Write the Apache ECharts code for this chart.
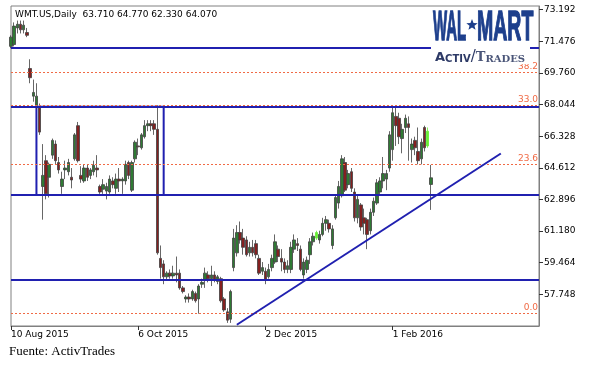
<!DOCTYPE html>
<html><head><meta charset="utf-8">
<script src="https://cdn.jsdelivr.net/npm/echarts@6/dist/echarts.min.js"></script>
<style>html,body{margin:0;padding:0;background:#fff}#c{width:607px;height:382px}</style>
</head><body><div id="c"></div>
<script>
// ---- data ----
const opens = [71.2,71.3,72.2,72.4,72.1,71.95,70.0,68.5,68.0,67.9,
63.6,65.0,64.1,65.3,65.9,64.9,63.6,64.5,64.4,64.1,
65.1,66.9,64.2,63.9,64.6,64.2,64.4,64.6,63.6,63.45,
63.35,63.3,63.9,63.5,64.0,63.9,63.9,64.9,63.4,65.1,
65.8,65.7,66.3,66.9,67.0,67.0,66.7,59.7,59.4,58.7,
58.9,58.75,58.9,58.9,58.1,57.5,57.6,57.5,57.8,57.5,
58.3,58.5,58.8,58.6,58.8,58.45,58.6,57.5,56.8,56.4,
59.2,60.0,61.1,60.8,60.7,60.0,60.3,60.5,59.7,59.0,
59.0,58.7,59.2,59.5,60.2,59.7,59.5,59.1,59.1,60.2,
60.5,60.2,58.8,59.1,59.9,60.6,60.8,60.7,61.0,61.6,
61.6,60.4,61.9,62.7,63.1,64.9,63.7,64.4,63.3,61.9,
62.6,61.9,61.8,61.2,62.2,62.7,63.3,63.9,64.0,64.6,
65.6,67.4,67.3,66.2,66.8,67.0,65.6,66.1,65.5,65.1,
66.8,65.8,63.71];
const highs = [71.8,72.5,72.6,72.6,72.6,72.2,70.5,69.4,69.2,68.1,
65.9,65.3,64.9,66.2,66.1,65.2,64.4,65.0,65.1,64.6,
66.5,67.1,64.7,64.8,64.8,64.6,65.0,65.3,63.7,64.0,
63.8,64.2,64.1,64.3,64.6,64.1,65.0,65.0,65.0,66.1,
66.2,66.5,67.2,67.2,67.2,67.2,68.0,60.4,59.6,59.0,
59.1,59.3,59.8,59.1,58.2,57.7,57.8,58.0,57.9,58.3,
58.6,59.2,59.0,59.3,59.0,58.8,58.7,57.6,57.0,58.0,
61.3,61.5,61.7,61.3,60.9,60.6,60.7,60.7,59.9,59.5,
59.2,59.4,59.9,61.0,60.4,60.2,59.7,59.6,60.6,61.0,
60.8,60.4,59.7,59.8,60.8,61.1,61.2,61.2,61.9,62.0,
61.8,61.5,63.1,63.9,65.3,65.2,64.5,64.6,63.5,63.1,
62.7,62.4,61.9,62.4,63.0,64.0,64.1,65.2,64.5,66.6,
68.0,67.9,67.6,67.0,67.5,67.4,66.2,66.3,66.8,66.2,
66.9,66.8,64.77];
const lows = [71.1,71.2,71.9,71.9,71.9,71.7,69.2,68.2,67.8,66.4,
61.8,62.9,63.0,65.1,64.8,64.3,63.2,64.0,64.2,63.5,
65.0,64.9,63.8,63.8,63.9,64.0,64.2,64.1,63.2,63.2,
62.9,63.2,63.5,63.2,63.3,63.2,63.7,64.0,63.3,64.9,
65.3,65.6,66.2,66.6,66.6,66.4,59.9,58.6,58.3,58.5,
58.6,58.6,58.4,58.0,57.8,57.3,57.3,57.4,57.3,56.7,
58.1,58.1,58.4,58.2,58.4,58.3,57.3,56.8,56.2,56.2,
59.0,59.8,60.5,59.9,59.8,59.8,59.8,59.7,58.8,58.8,
58.3,58.6,59.0,59.4,59.5,59.0,58.9,58.9,58.9,60.0,
60.1,59.0,58.6,58.9,59.4,60.4,60.7,60.5,60.9,61.2,
61.1,60.2,61.8,62.4,63.0,63.3,63.5,63.3,61.7,61.6,
61.2,61.0,60.2,61.0,62.0,62.6,63.1,63.5,63.4,64.4,
65.0,65.8,65.9,65.4,66.5,65.0,64.9,65.3,64.8,64.8,
65.5,65.7,62.33];
const closes = [71.7,72.3,72.4,72.1,72.35,71.8,69.5,68.7,68.5,66.55,
64.2,63.2,64.8,66.1,65.0,64.5,64.0,64.6,64.9,63.95,
66.4,65.0,64.0,64.6,64.1,64.5,64.75,64.5,63.3,63.7,
63.6,64.0,63.7,64.0,63.9,64.0,64.8,64.2,64.9,66.0,
65.75,66.4,66.9,67.0,66.9,66.7,60.0,59.2,58.7,58.9,
58.75,58.9,58.8,58.1,57.9,57.6,57.5,57.9,57.4,58.2,
58.4,58.9,58.6,58.8,58.5,58.7,57.4,56.9,56.35,57.9,
60.8,61.1,60.7,60.3,59.9,60.3,60.0,59.9,58.9,59.2,
58.5,59.1,59.7,60.6,59.8,59.5,59.1,59.3,60.3,60.7,
60.4,59.1,59.5,59.6,60.6,60.9,61.1,61.0,61.6,61.8,
61.3,61.3,63.0,63.6,65.1,63.4,64.3,63.5,61.9,62.9,
61.4,61.6,61.0,62.2,62.8,63.8,63.9,64.3,64.3,66.4,
67.6,66.9,66.3,66.7,67.3,66.8,65.9,65.7,65.0,66.0,
65.7,66.6,64.07];
const limeBars = [96, 131];

const tickIndex  = [0, 40, 80, 120];
const tickLabels = ['10 Aug 2015', '6 Oct 2015', '2 Dec 2015', '1 Feb 2016'];
const yTicksFrom = 56.032, yTickStep = 1.716, yTop = 73.39;

const hLevels   = [71.15, 67.93, 63.14, 58.53];
const fibLevels = [69.82, 68.02, 64.80, 56.72];
const fibLabels = ['38.2', '33.0', '23.6', '0.0'];
const boxStart  = [8, 67.93], boxEnd = [48, 63.14];
const trendStart = [71, 56.1], trendEnd = [154, 65.39];

const totalSlots = 167;
const holidays = ['2015-09-07','2015-11-26','2015-12-25','2016-01-01','2016-01-18','2016-02-15'];

// trading-day calendar for the category axis
const categories = [];
(function(){
  const d = new Date(Date.UTC(2015, 7, 10));
  while (categories.length < totalSlots) {
    const wd = d.getUTCDay();
    const s = d.toISOString().slice(0, 10);
    if (wd !== 0 && wd !== 6 && holidays.indexOf(s) < 0) categories.push(s);
    d.setUTCDate(d.getUTCDate() + 1);
  }
})();

const BLUE = '#2020b0', FIB = '#f06a45', FONT = '"DejaVu Sans"';
const candleData = opens.map((o, i) => {
  const item = { value: [o, closes[i], lows[i], highs[i]] };
  if (limeBars.indexOf(i) >= 0) item.itemStyle = { color: '#66ee33', color0: '#66ee33', borderColor: '#66ee33', borderColor0: '#66ee33' };
  return item;
});

const lineData = [];
hLevels.forEach(v => lineData.push({ yAxis: v, lineStyle: { color: BLUE, width: 2, type: 'solid' }, label: { show: false } }));
fibLevels.forEach((v, k) => lineData.push({
  yAxis: v,
  lineStyle: { color: FIB, width: 1, type: [2, 2] },
  label: { show: true, position: 'insideEndTop', formatter: fibLabels[k], color: FIB, fontFamily: FONT, fontSize: 9, distance: [1, 1] }
}));
lineData.push([{ coord: trendStart, lineStyle: { color: BLUE, width: 2, type: 'solid' }, label: { show: false } }, { coord: trendEnd }]);

// star polygon for logo
const starPts = [];
for (let k = 0; k < 10; k++) {
  const r = k % 2 === 0 ? 6 : 2.6;
  const a = -Math.PI / 2 + k * Math.PI / 5;
  starPts.push([472 + r * Math.cos(a), 25 + r * Math.sin(a)]);
}

const chart = echarts.init(document.getElementById('c'), null, { renderer: 'canvas' });
chart.setOption({
  animation: false,
  backgroundColor: '#fff',
  grid: { left: 11, top: 6, right: 68, bottom: 56, show: true, borderColor: '#808080', borderWidth: 1 },
  xAxis: {
    type: 'category', data: categories, boundaryGap: false,
    axisLine: { lineStyle: { color: '#808080' } },
    axisTick: { show: true, length: 4, interval: (i) => tickIndex.indexOf(i) >= 0, lineStyle: { color: '#333' } },
    axisLabel: {
      interval: (i) => tickIndex.indexOf(i) >= 0,
      formatter: (v, i) => { const k = tickIndex.indexOf(i); return k >= 0 ? tickLabels[k] : ''; },
      align: 'left', margin: 4, color: '#000', fontFamily: FONT, fontSize: 9
    },
    splitLine: { show: false }
  },
  yAxis: {
    type: 'value', position: 'right', min: yTicksFrom, max: yTop, interval: yTickStep,
    axisLine: { show: true, lineStyle: { color: '#808080' } },
    axisTick: { show: true, length: 4, lineStyle: { color: '#333' } },
    axisLabel: { showMinLabel: false, showMaxLabel: false, margin: 5, color: '#000', fontFamily: FONT, fontSize: 9,
      formatter: (v) => v.toFixed(3) },
    splitLine: { show: false }
  },
  series: [{
    type: 'candlestick',
    data: candleData,
    barWidth: 3,
    itemStyle: { color: '#2f7a34', color0: '#842020', borderColor: '#404040', borderColor0: '#404040', borderWidth: 0.8 },
    markLine: { silent: true, symbol: ['none', 'none'], animation: false, data: lineData },
    markArea: { silent: true, itemStyle: { color: 'rgba(0,0,0,0)', borderColor: BLUE, borderWidth: 2 },
      data: [[{ coord: boxStart }, { coord: boxEnd }]] }
  }],
  graphic: [
    { type: 'text', x: 15, y: 10, z: 100, style: { text: 'WMT.US,Daily  63.710 64.770 62.330 64.070', font: '9px ' + FONT, fill: '#000', textVerticalAlign: 'top' } },
    { type: 'text', x: 9, y: 345, z: 100, style: { text: 'Fuente: ActivTrades', font: '13px "Liberation Serif"', fill: '#000', textVerticalAlign: 'top' } },
    { type: 'rect', z: 100, shape: { x: 431, y: 9, width: 99, height: 55 }, style: { fill: '#fff' } },
    { type: 'text', z: 101, x: 433, y: 28, scaleX: 0.355, style: { text: 'WAL', font: 'bold 42px "Liberation Sans"', fill: '#1d3f8c', stroke: '#1d3f8c', lineWidth: 1.5, textVerticalAlign: 'middle' } },
    { type: 'polygon', z: 101, shape: { points: starPts }, style: { fill: '#1d3f8c' } },
    { type: 'text', z: 101, x: 477, y: 28, scaleX: 0.465, style: { text: 'MART', font: 'bold 42px "Liberation Sans"', fill: '#1d3f8c', stroke: '#1d3f8c', lineWidth: 1.5, textVerticalAlign: 'middle' } },
    { type: 'text', z: 101, x: 435, y: 57, style: {
        text: '{a|A}{b|CTIV}{s|/}{a2|T}{b2|RADES}', textVerticalAlign: 'middle',
        rich: {
          a:  { font: 'bold 13px "DejaVu Sans"', fill: '#2d3a66', verticalAlign: 'bottom' },
          b:  { font: 'bold 10px "DejaVu Sans"', fill: '#2d3a66', verticalAlign: 'bottom' },
          s:  { font: '15px "DejaVu Sans"', fill: '#2d3a66', verticalAlign: 'bottom' },
          a2: { font: 'bold 13px "DejaVu Serif"', fill: '#4a5578', verticalAlign: 'bottom' },
          b2: { font: 'bold 10px "DejaVu Serif"', fill: '#4a5578', verticalAlign: 'bottom' }
        } } }
  ]
});
</script>
</body></html>
